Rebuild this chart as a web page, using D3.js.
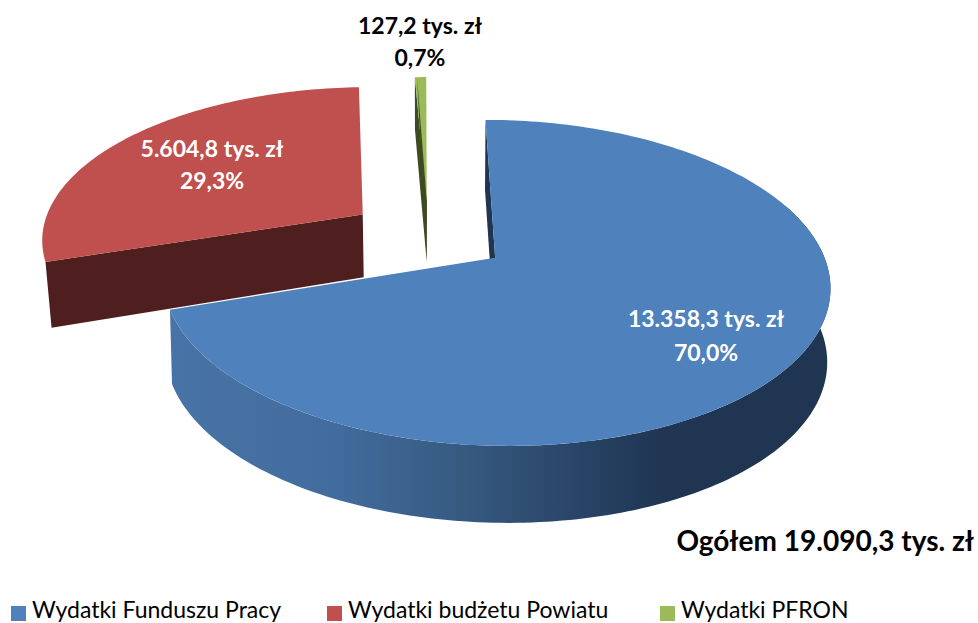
<!DOCTYPE html>
<html><head><meta charset="utf-8">
<script src="https://cdn.jsdelivr.net/npm/d3@7/dist/d3.min.js"></script>
<style>html,body{margin:0;padding:0;background:#fff;overflow:hidden}svg{display:block}text{font-family:Lato,"Open Sans",sans-serif}</style>
</head><body><div id="c"></div>
<script>
const categories = ["Wydatki Funduszu Pracy", "Wydatki budżetu Powiatu", "Wydatki PFRON"];
const values = [13358.3, 5604.8, 127.2];
const amountLabels = ["13.358,3 tys. zł", "5.604,8 tys. zł", "127,2 tys. zł"];
const percentLabels = ["70,0%", "29,3%", "0,7%"];
const totalLabel = "Ogółem 19.090,3 tys. zł";
const colors = ["#4F81BD", "#C0504D", "#9BBB59"];
const cutColors = ["#1F3552", "#4F1F1F", "#3D4A22"];

const W = 978, H = 623;
const svg = d3.select("#c").append("svg").attr("width", W).attr("height", H);

// perspective projection of the tilted pie
const x0 = 422.7, y0 = 233, K = 321.5, k = 151.6, p = 0.15;
const explode = [[0.22, 0.16], [-0.19, -0.125], [0.013, -0.216]];
const depth = [w => 72.7 / Math.pow(w, 0.3), w => 64 / w, w => 62 / w];
const shrink = [0.992, 0.984, 0.984];
function project(i, X, Y, bottom) {
  const w = 1 - p * Y;
  let sx = x0 + K * X / w, sy = y0 + k * Y / w;
  if (bottom) { sx = x0 + (sx - x0) * shrink[i]; sy += depth[i](w); }
  return [sx, sy];
}
const rim = (i, a, bottom) => project(i, explode[i][0] + Math.sin(a), explode[i][1] - Math.cos(a), bottom);
const apex = (i, bottom) => project(i, explode[i][0], explode[i][1], bottom);
const line = d3.line();
const arcPts = (i, a0, a1, bottom) => {
  const n = Math.max(2, Math.ceil(Math.abs(a1 - a0) / 0.02));
  return d3.range(n + 1).map(j => rim(i, a0 + (a1 - a0) * j / n, bottom));
};

const pie = d3.pie().sort(null).value(d => d)(values);
const defs = svg.append("defs");
const g = defs.append("linearGradient").attr("id", "side").attr("gradientUnits", "userSpaceOnUse")
  .attr("x1", 170).attr("x2", 830).attr("y1", 0).attr("y2", 0);
[[0, "#4873A6"], [0.25, "#426C9D"], [0.45, "#36597F"], [0.62, "#294467"], [0.75, "#1F3552"], [1, "#1F3552"]]
  .forEach(s => g.append("stop").attr("offset", s[0]).attr("stop-color", s[1]));

const face = (pts, fill) => svg.append("path").attr("d", line(pts) + "Z").attr("fill", fill);
const cutFace = (i, a) => face([rim(i, a, false), apex(i, false), apex(i, true), rim(i, a, true)], cutColors[i]);

// green slice
const gs = pie[2];
cutFace(2, gs.startAngle);
face([...arcPts(2, gs.startAngle, gs.endAngle, false), apex(2, false)], colors[2]);
face([apex(2, false), apex(2, true), rim(2, gs.startAngle + 0.008, false)], cutColors[2]);

// red slice
const rs = pie[1];
cutFace(1, rs.startAngle);
face([...arcPts(1, rs.startAngle, rs.endAngle, false), apex(1, false)], colors[1]);

// blue slice
const bs = pie[0];
const sideStart = 70 * Math.PI / 180;
cutFace(0, bs.startAngle);
face([...arcPts(0, sideStart, bs.endAngle, false), ...arcPts(0, bs.endAngle, sideStart, true)], "url(#side)");
face([...arcPts(0, bs.startAngle, bs.endAngle, false), apex(0, false)], colors[0]);

// labels
const labelPos = [[706, 327, 361], [212, 157, 189], [420, 34, 66]];
const labelFill = ["#fff", "#fff", "#000"];
categories.forEach((c, i) => {
  [amountLabels[i], percentLabels[i]].forEach((t, j) => {
    svg.append("text").attr("x", labelPos[i][0]).attr("y", labelPos[i][1 + j])
      .attr("text-anchor", "middle").attr("font-size", 23).attr("font-weight", 700)
      .attr("fill", labelFill[i]).text(t);
  });
});
svg.append("text").attr("x", 974).attr("y", 551).attr("text-anchor", "end")
  .attr("font-size", 28).attr("font-weight", 700).attr("fill", "#000").text(totalLabel);

// legend
const legendX = [11, 327, 660];
categories.forEach((c, i) => {
  svg.append("rect").attr("x", legendX[i]).attr("y", 606).attr("width", 15).attr("height", 15).attr("fill", colors[i]);
  svg.append("text").attr("x", legendX[i] + 21).attr("y", 618).attr("font-size", 23).attr("fill", "#000").text(c);
});
</script></body></html>
